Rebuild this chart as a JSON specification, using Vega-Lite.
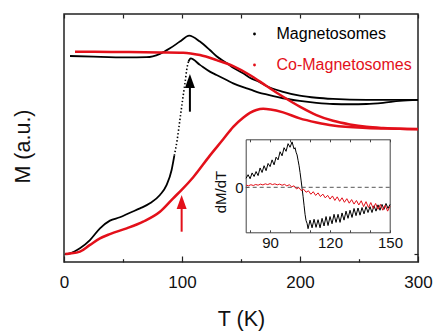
{
"$schema": "https://vega.github.io/schema/vega-lite/v6.json",
"width": 354, "height": 248,
"autosize": {"type": "none"},
"padding": {"left": 64, "top": 14, "right": 16, "bottom": 69},
"background": "white",
"config": {
  "view": {"stroke": "#222", "strokeWidth": 1.5},
  "font": "Liberation Sans",
  "axis": {"domain": false, "grid": false, "labelFlush": false, "tickColor": "#222", "tickWidth": 1.2, "labelColor": "#111", "titleColor": "#111", "titleFontWeight": "normal", "labelFont": "Liberation Sans", "titleFont": "Liberation Sans"}
},
"datasets": {
  "main": [
    {"sample":"Magnetosomes","branch":"ZFC","T":1,"M":0},
    {"sample":"Magnetosomes","branch":"ZFC","T":5.1,"M":0.003},
    {"sample":"Magnetosomes","branch":"ZFC","T":13.5,"M":0.024},
    {"sample":"Magnetosomes","branch":"ZFC","T":22,"M":0.058},
    {"sample":"Magnetosomes","branch":"ZFC","T":30.5,"M":0.107},
    {"sample":"Magnetosomes","branch":"ZFC","T":38.9,"M":0.139},
    {"sample":"Magnetosomes","branch":"ZFC","T":47.4,"M":0.153},
    {"sample":"Magnetosomes","branch":"ZFC","T":55.9,"M":0.172},
    {"sample":"Magnetosomes","branch":"ZFC","T":64.4,"M":0.19},
    {"sample":"Magnetosomes","branch":"ZFC","T":72.8,"M":0.211},
    {"sample":"Magnetosomes","branch":"ZFC","T":81.3,"M":0.246},
    {"sample":"Magnetosomes","branch":"ZFC","T":87,"M":0.288},
    {"sample":"Magnetosomes","branch":"ZFC","T":91.2,"M":0.35},
    {"sample":"Magnetosomes","branch":"ZFC","T":93.5,"M":0.41},
    {"sample":"Magnetosomes","branch":"ZFC","T":95.9,"M":0.475},
    {"sample":"Magnetosomes","branch":"ZFC","T":98.2,"M":0.558},
    {"sample":"Magnetosomes","branch":"ZFC","T":100.5,"M":0.642},
    {"sample":"Magnetosomes","branch":"ZFC","T":102.5,"M":0.711},
    {"sample":"Magnetosomes","branch":"ZFC","T":104.4,"M":0.78},
    {"sample":"Magnetosomes","branch":"ZFC","T":105.5,"M":0.802},
    {"sample":"Magnetosomes","branch":"ZFC","T":106.1,"M":0.808},
    {"sample":"Magnetosomes","branch":"ZFC","T":107.3,"M":0.815},
    {"sample":"Magnetosomes","branch":"ZFC","T":115.2,"M":0.788},
    {"sample":"Magnetosomes","branch":"ZFC","T":123.6,"M":0.76},
    {"sample":"Magnetosomes","branch":"ZFC","T":129.3,"M":0.746},
    {"sample":"Magnetosomes","branch":"ZFC","T":137.8,"M":0.725},
    {"sample":"Magnetosomes","branch":"ZFC","T":143.4,"M":0.711},
    {"sample":"Magnetosomes","branch":"ZFC","T":151.8,"M":0.695},
    {"sample":"Magnetosomes","branch":"ZFC","T":157.5,"M":0.686},
    {"sample":"Magnetosomes","branch":"ZFC","T":165.9,"M":0.671},
    {"sample":"Magnetosomes","branch":"ZFC","T":171.6,"M":0.665},
    {"sample":"Magnetosomes","branch":"ZFC","T":185.7,"M":0.649},
    {"sample":"Magnetosomes","branch":"ZFC","T":199.8,"M":0.638},
    {"sample":"Magnetosomes","branch":"ZFC","T":213.9,"M":0.63},
    {"sample":"Magnetosomes","branch":"ZFC","T":228,"M":0.625},
    {"sample":"Magnetosomes","branch":"ZFC","T":242.2,"M":0.624},
    {"sample":"Magnetosomes","branch":"ZFC","T":256.3,"M":0.625},
    {"sample":"Magnetosomes","branch":"ZFC","T":270.4,"M":0.63},
    {"sample":"Magnetosomes","branch":"ZFC","T":284.5,"M":0.638},
    {"sample":"Magnetosomes","branch":"ZFC","T":300,"M":0.642},
    {"sample":"Magnetosomes","branch":"FC","T":5.1,"M":0.825},
    {"sample":"Magnetosomes","branch":"FC","T":24.8,"M":0.822},
    {"sample":"Magnetosomes","branch":"FC","T":53.1,"M":0.819},
    {"sample":"Magnetosomes","branch":"FC","T":70,"M":0.82},
    {"sample":"Magnetosomes","branch":"FC","T":81.3,"M":0.834},
    {"sample":"Magnetosomes","branch":"FC","T":89.8,"M":0.857},
    {"sample":"Magnetosomes","branch":"FC","T":98.2,"M":0.885},
    {"sample":"Magnetosomes","branch":"FC","T":106.1,"M":0.91},
    {"sample":"Magnetosomes","branch":"FC","T":115.2,"M":0.885},
    {"sample":"Magnetosomes","branch":"FC","T":123.6,"M":0.85},
    {"sample":"Magnetosomes","branch":"FC","T":129.3,"M":0.824},
    {"sample":"Magnetosomes","branch":"FC","T":137.8,"M":0.796},
    {"sample":"Magnetosomes","branch":"FC","T":143.4,"M":0.776},
    {"sample":"Magnetosomes","branch":"FC","T":151.8,"M":0.753},
    {"sample":"Magnetosomes","branch":"FC","T":157.5,"M":0.734},
    {"sample":"Magnetosomes","branch":"FC","T":165.9,"M":0.716},
    {"sample":"Magnetosomes","branch":"FC","T":171.6,"M":0.7},
    {"sample":"Magnetosomes","branch":"FC","T":185.7,"M":0.676},
    {"sample":"Magnetosomes","branch":"FC","T":199.8,"M":0.66},
    {"sample":"Magnetosomes","branch":"FC","T":213.9,"M":0.651},
    {"sample":"Magnetosomes","branch":"FC","T":228,"M":0.646},
    {"sample":"Magnetosomes","branch":"FC","T":256.3,"M":0.642},
    {"sample":"Magnetosomes","branch":"FC","T":300,"M":0.642},
    {"sample":"Co-Magnetosomes","branch":"FC","T":9.3,"M":0.843},
    {"sample":"Co-Magnetosomes","branch":"FC","T":40,"M":0.842},
    {"sample":"Co-Magnetosomes","branch":"FC","T":81.3,"M":0.84},
    {"sample":"Co-Magnetosomes","branch":"FC","T":101,"M":0.839},
    {"sample":"Co-Magnetosomes","branch":"FC","T":115.2,"M":0.829},
    {"sample":"Co-Magnetosomes","branch":"FC","T":129.3,"M":0.808},
    {"sample":"Co-Magnetosomes","branch":"FC","T":143.4,"M":0.783},
    {"sample":"Co-Magnetosomes","branch":"FC","T":157.5,"M":0.746},
    {"sample":"Co-Magnetosomes","branch":"FC","T":171.6,"M":0.7},
    {"sample":"Co-Magnetosomes","branch":"FC","T":185.7,"M":0.655},
    {"sample":"Co-Magnetosomes","branch":"FC","T":199.8,"M":0.614},
    {"sample":"Co-Magnetosomes","branch":"FC","T":213.9,"M":0.579},
    {"sample":"Co-Magnetosomes","branch":"FC","T":228,"M":0.555},
    {"sample":"Co-Magnetosomes","branch":"FC","T":242.2,"M":0.54},
    {"sample":"Co-Magnetosomes","branch":"FC","T":256.3,"M":0.53},
    {"sample":"Co-Magnetosomes","branch":"FC","T":270.4,"M":0.525},
    {"sample":"Co-Magnetosomes","branch":"FC","T":284.5,"M":0.522},
    {"sample":"Co-Magnetosomes","branch":"FC","T":300,"M":0.521},
    {"sample":"Co-Magnetosomes","branch":"ZFC","T":1,"M":0},
    {"sample":"Co-Magnetosomes","branch":"ZFC","T":5.1,"M":0.002},
    {"sample":"Co-Magnetosomes","branch":"ZFC","T":13.5,"M":0.01},
    {"sample":"Co-Magnetosomes","branch":"ZFC","T":22,"M":0.038},
    {"sample":"Co-Magnetosomes","branch":"ZFC","T":30.5,"M":0.065},
    {"sample":"Co-Magnetosomes","branch":"ZFC","T":38.9,"M":0.083},
    {"sample":"Co-Magnetosomes","branch":"ZFC","T":53.1,"M":0.107},
    {"sample":"Co-Magnetosomes","branch":"ZFC","T":67.1,"M":0.135},
    {"sample":"Co-Magnetosomes","branch":"ZFC","T":81.3,"M":0.176},
    {"sample":"Co-Magnetosomes","branch":"ZFC","T":92.5,"M":0.232},
    {"sample":"Co-Magnetosomes","branch":"ZFC","T":99.7,"M":0.267},
    {"sample":"Co-Magnetosomes","branch":"ZFC","T":109.5,"M":0.32},
    {"sample":"Co-Magnetosomes","branch":"ZFC","T":123.6,"M":0.41},
    {"sample":"Co-Magnetosomes","branch":"ZFC","T":134.9,"M":0.478},
    {"sample":"Co-Magnetosomes","branch":"ZFC","T":143.4,"M":0.53},
    {"sample":"Co-Magnetosomes","branch":"ZFC","T":151.8,"M":0.568},
    {"sample":"Co-Magnetosomes","branch":"ZFC","T":157.5,"M":0.588},
    {"sample":"Co-Magnetosomes","branch":"ZFC","T":163,"M":0.6},
    {"sample":"Co-Magnetosomes","branch":"ZFC","T":168.8,"M":0.605},
    {"sample":"Co-Magnetosomes","branch":"ZFC","T":175,"M":0.602},
    {"sample":"Co-Magnetosomes","branch":"ZFC","T":185.7,"M":0.59},
    {"sample":"Co-Magnetosomes","branch":"ZFC","T":199.8,"M":0.565},
    {"sample":"Co-Magnetosomes","branch":"ZFC","T":213.9,"M":0.548},
    {"sample":"Co-Magnetosomes","branch":"ZFC","T":228,"M":0.535},
    {"sample":"Co-Magnetosomes","branch":"ZFC","T":256.3,"M":0.525},
    {"sample":"Co-Magnetosomes","branch":"ZFC","T":284.5,"M":0.522},
    {"sample":"Co-Magnetosomes","branch":"ZFC","T":300,"M":0.52}
  ],
  "arrows": [
    {"sample":"Magnetosomes","T":106.7,"tip":0.75,"base":0.593},
    {"sample":"Co-Magnetosomes","T":99.7,"tip":0.246,"base":0.093}
  ],
  "inset": [
    {"sample":"Magnetosomes","T":78,"dMdT":0.2},
    {"sample":"Magnetosomes","T":79,"dMdT":0.28},
    {"sample":"Magnetosomes","T":80,"dMdT":0.19},
    {"sample":"Magnetosomes","T":81,"dMdT":0.32},
    {"sample":"Magnetosomes","T":82,"dMdT":0.24},
    {"sample":"Magnetosomes","T":83,"dMdT":0.35},
    {"sample":"Magnetosomes","T":84,"dMdT":0.26},
    {"sample":"Magnetosomes","T":85,"dMdT":0.43},
    {"sample":"Magnetosomes","T":86,"dMdT":0.33},
    {"sample":"Magnetosomes","T":87,"dMdT":0.48},
    {"sample":"Magnetosomes","T":88,"dMdT":0.37},
    {"sample":"Magnetosomes","T":89,"dMdT":0.53},
    {"sample":"Magnetosomes","T":90,"dMdT":0.46},
    {"sample":"Magnetosomes","T":91,"dMdT":0.61},
    {"sample":"Magnetosomes","T":92,"dMdT":0.5},
    {"sample":"Magnetosomes","T":93,"dMdT":0.67},
    {"sample":"Magnetosomes","T":94,"dMdT":0.61},
    {"sample":"Magnetosomes","T":95,"dMdT":0.79},
    {"sample":"Magnetosomes","T":96,"dMdT":0.7},
    {"sample":"Magnetosomes","T":97,"dMdT":0.88},
    {"sample":"Magnetosomes","T":98,"dMdT":0.8},
    {"sample":"Magnetosomes","T":99,"dMdT":0.97},
    {"sample":"Magnetosomes","T":100,"dMdT":0.89},
    {"sample":"Magnetosomes","T":101,"dMdT":1.01},
    {"sample":"Magnetosomes","T":102,"dMdT":0.85},
    {"sample":"Magnetosomes","T":102.5,"dMdT":0.88},
    {"sample":"Magnetosomes","T":103,"dMdT":0.78},
    {"sample":"Magnetosomes","T":103.5,"dMdT":0.72},
    {"sample":"Magnetosomes","T":104,"dMdT":0.6},
    {"sample":"Magnetosomes","T":104.5,"dMdT":0.48},
    {"sample":"Magnetosomes","T":105,"dMdT":0.33},
    {"sample":"Magnetosomes","T":105.5,"dMdT":0.16},
    {"sample":"Magnetosomes","T":106,"dMdT":-0.02},
    {"sample":"Magnetosomes","T":106.5,"dMdT":-0.2},
    {"sample":"Magnetosomes","T":107,"dMdT":-0.4},
    {"sample":"Magnetosomes","T":107.5,"dMdT":-0.6},
    {"sample":"Magnetosomes","T":108,"dMdT":-0.74},
    {"sample":"Magnetosomes","T":108.5,"dMdT":-0.8},
    {"sample":"Magnetosomes","T":109,"dMdT":-0.92},
    {"sample":"Magnetosomes","T":110,"dMdT":-0.73},
    {"sample":"Magnetosomes","T":111,"dMdT":-0.9},
    {"sample":"Magnetosomes","T":112,"dMdT":-0.71},
    {"sample":"Magnetosomes","T":113,"dMdT":-0.89},
    {"sample":"Magnetosomes","T":114,"dMdT":-0.72},
    {"sample":"Magnetosomes","T":115,"dMdT":-0.9},
    {"sample":"Magnetosomes","T":116,"dMdT":-0.69},
    {"sample":"Magnetosomes","T":117,"dMdT":-0.86},
    {"sample":"Magnetosomes","T":118,"dMdT":-0.65},
    {"sample":"Magnetosomes","T":119,"dMdT":-0.85},
    {"sample":"Magnetosomes","T":120,"dMdT":-0.65},
    {"sample":"Magnetosomes","T":121,"dMdT":-0.81},
    {"sample":"Magnetosomes","T":122,"dMdT":-0.6},
    {"sample":"Magnetosomes","T":123,"dMdT":-0.78},
    {"sample":"Magnetosomes","T":124,"dMdT":-0.6},
    {"sample":"Magnetosomes","T":125,"dMdT":-0.78},
    {"sample":"Magnetosomes","T":126,"dMdT":-0.57},
    {"sample":"Magnetosomes","T":127,"dMdT":-0.73},
    {"sample":"Magnetosomes","T":128,"dMdT":-0.53},
    {"sample":"Magnetosomes","T":129,"dMdT":-0.69},
    {"sample":"Magnetosomes","T":130,"dMdT":-0.51},
    {"sample":"Magnetosomes","T":131,"dMdT":-0.67},
    {"sample":"Magnetosomes","T":132,"dMdT":-0.47},
    {"sample":"Magnetosomes","T":133,"dMdT":-0.63},
    {"sample":"Magnetosomes","T":134,"dMdT":-0.46},
    {"sample":"Magnetosomes","T":135,"dMdT":-0.62},
    {"sample":"Magnetosomes","T":136,"dMdT":-0.45},
    {"sample":"Magnetosomes","T":137,"dMdT":-0.59},
    {"sample":"Magnetosomes","T":138,"dMdT":-0.43},
    {"sample":"Magnetosomes","T":139,"dMdT":-0.56},
    {"sample":"Magnetosomes","T":140,"dMdT":-0.43},
    {"sample":"Magnetosomes","T":141,"dMdT":-0.56},
    {"sample":"Magnetosomes","T":142,"dMdT":-0.41},
    {"sample":"Magnetosomes","T":143,"dMdT":-0.53},
    {"sample":"Magnetosomes","T":144,"dMdT":-0.39},
    {"sample":"Magnetosomes","T":145,"dMdT":-0.51},
    {"sample":"Magnetosomes","T":146,"dMdT":-0.38},
    {"sample":"Magnetosomes","T":147,"dMdT":-0.49},
    {"sample":"Magnetosomes","T":148,"dMdT":-0.36},
    {"sample":"Magnetosomes","T":149,"dMdT":-0.47},
    {"sample":"Magnetosomes","T":150,"dMdT":-0.38},
    {"sample":"Co-Magnetosomes","T":78,"dMdT":0.05},
    {"sample":"Co-Magnetosomes","T":79.2,"dMdT":0.033},
    {"sample":"Co-Magnetosomes","T":80.4,"dMdT":0.057},
    {"sample":"Co-Magnetosomes","T":81.6,"dMdT":0.04},
    {"sample":"Co-Magnetosomes","T":82.8,"dMdT":0.063},
    {"sample":"Co-Magnetosomes","T":84,"dMdT":0.047},
    {"sample":"Co-Magnetosomes","T":85.2,"dMdT":0.07},
    {"sample":"Co-Magnetosomes","T":86.4,"dMdT":0.053},
    {"sample":"Co-Magnetosomes","T":87.6,"dMdT":0.077},
    {"sample":"Co-Magnetosomes","T":88.8,"dMdT":0.06},
    {"sample":"Co-Magnetosomes","T":90,"dMdT":0.083},
    {"sample":"Co-Magnetosomes","T":91.2,"dMdT":0.06},
    {"sample":"Co-Magnetosomes","T":92.4,"dMdT":0.077},
    {"sample":"Co-Magnetosomes","T":93.6,"dMdT":0.055},
    {"sample":"Co-Magnetosomes","T":94.8,"dMdT":0.071},
    {"sample":"Co-Magnetosomes","T":96,"dMdT":0.046},
    {"sample":"Co-Magnetosomes","T":97.2,"dMdT":0.066},
    {"sample":"Co-Magnetosomes","T":98.4,"dMdT":0.031},
    {"sample":"Co-Magnetosomes","T":99.6,"dMdT":0.057},
    {"sample":"Co-Magnetosomes","T":100.8,"dMdT":0.012},
    {"sample":"Co-Magnetosomes","T":102,"dMdT":0.033},
    {"sample":"Co-Magnetosomes","T":103.2,"dMdT":-0.036},
    {"sample":"Co-Magnetosomes","T":104.4,"dMdT":-0.005},
    {"sample":"Co-Magnetosomes","T":105.6,"dMdT":-0.074},
    {"sample":"Co-Magnetosomes","T":106.8,"dMdT":-0.042},
    {"sample":"Co-Magnetosomes","T":108,"dMdT":-0.11},
    {"sample":"Co-Magnetosomes","T":109.2,"dMdT":-0.078},
    {"sample":"Co-Magnetosomes","T":110.4,"dMdT":-0.154},
    {"sample":"Co-Magnetosomes","T":111.6,"dMdT":-0.098},
    {"sample":"Co-Magnetosomes","T":112.8,"dMdT":-0.181},
    {"sample":"Co-Magnetosomes","T":114,"dMdT":-0.124},
    {"sample":"Co-Magnetosomes","T":115.2,"dMdT":-0.206},
    {"sample":"Co-Magnetosomes","T":116.4,"dMdT":-0.151},
    {"sample":"Co-Magnetosomes","T":117.6,"dMdT":-0.235},
    {"sample":"Co-Magnetosomes","T":118.8,"dMdT":-0.178},
    {"sample":"Co-Magnetosomes","T":120,"dMdT":-0.262},
    {"sample":"Co-Magnetosomes","T":121.2,"dMdT":-0.192},
    {"sample":"Co-Magnetosomes","T":122.4,"dMdT":-0.292},
    {"sample":"Co-Magnetosomes","T":123.6,"dMdT":-0.212},
    {"sample":"Co-Magnetosomes","T":124.8,"dMdT":-0.312},
    {"sample":"Co-Magnetosomes","T":126,"dMdT":-0.233},
    {"sample":"Co-Magnetosomes","T":127.2,"dMdT":-0.333},
    {"sample":"Co-Magnetosomes","T":128.4,"dMdT":-0.253},
    {"sample":"Co-Magnetosomes","T":129.6,"dMdT":-0.353},
    {"sample":"Co-Magnetosomes","T":130.8,"dMdT":-0.273},
    {"sample":"Co-Magnetosomes","T":132,"dMdT":-0.373},
    {"sample":"Co-Magnetosomes","T":133.2,"dMdT":-0.293},
    {"sample":"Co-Magnetosomes","T":134.4,"dMdT":-0.393},
    {"sample":"Co-Magnetosomes","T":135.6,"dMdT":-0.299},
    {"sample":"Co-Magnetosomes","T":136.8,"dMdT":-0.429},
    {"sample":"Co-Magnetosomes","T":138,"dMdT":-0.319},
    {"sample":"Co-Magnetosomes","T":139.2,"dMdT":-0.449},
    {"sample":"Co-Magnetosomes","T":140.4,"dMdT":-0.339},
    {"sample":"Co-Magnetosomes","T":141.6,"dMdT":-0.469},
    {"sample":"Co-Magnetosomes","T":142.8,"dMdT":-0.359},
    {"sample":"Co-Magnetosomes","T":144,"dMdT":-0.489},
    {"sample":"Co-Magnetosomes","T":145.2,"dMdT":-0.379},
    {"sample":"Co-Magnetosomes","T":146.4,"dMdT":-0.509},
    {"sample":"Co-Magnetosomes","T":147.6,"dMdT":-0.4},
    {"sample":"Co-Magnetosomes","T":148.8,"dMdT":-0.53},
    {"sample":"Co-Magnetosomes","T":150,"dMdT":-0.42}
  ]
},
"layer": [
  {
    "layer": [
      {
        "data": {"name": "main"},
        "transform": [{"filter": "datum.sample == 'Magnetosomes' && datum.branch == 'FC'"}],
        "mark": {"type": "line", "strokeWidth": 1.8, "interpolate": "monotone"},
        "encoding": {
          "x": {"field": "T", "type": "quantitative", "scale": {"domain": [0, 300], "nice": false},
                "axis": {"orient": "bottom", "values": [0, 100, 200, 300], "tickSize": -6, "labelFontSize": 17, "labelPadding": 18, "title": "T (K)", "titleFontSize": 21.5, "titlePadding": 18}},
          "y": {"field": "M", "type": "quantitative", "scale": {"domain": [-0.0333, 1], "nice": false, "zero": false},
                "axis": {"orient": "left", "values": [0], "labels": false, "tickSize": -4, "title": "M (a.u.)", "titleFontSize": 21.5, "titlePadding": 29, "titleY": 132}},
          "color": {"field": "sample", "type": "nominal",
                    "scale": {"domain": ["Magnetosomes", "Co-Magnetosomes"], "range": ["#000000", "#e3101a"]},
                    "legend": {"orient": "none", "legendX": 182.5, "legendY": 12, "title": null, "symbolType": "circle", "symbolSize": 8, "symbolStrokeWidth": 0, "labelFontSize": 16, "labelOffset": 14, "rowPadding": 15, "padding": 0, "labelFont": "Liberation Sans",
                               "encode": {"symbols": {"update": {"fill": {"signal": "datum.value == 'Magnetosomes' ? '#000000' : '#e3101a'"}, "opacity": {"value": 1}}},
                                          "labels": {"update": {"fill": {"signal": "datum.value == 'Magnetosomes' ? '#000000' : '#e3101a'"}}}}}}
        }
      },
      {
        "data": {"name": "main"},
        "transform": [{"filter": "datum.sample == 'Magnetosomes' && datum.branch == 'ZFC' && datum.T <= 93.5"}],
        "mark": {"type": "line", "strokeWidth": 1.8, "interpolate": "monotone", "color": "#000000"},
        "encoding": {"x": {"field": "T", "type": "quantitative"}, "y": {"field": "M", "type": "quantitative"}}
      },
      {
        "data": {"name": "main"},
        "transform": [{"filter": "datum.sample == 'Magnetosomes' && datum.branch == 'ZFC' && datum.T >= 93.5 && datum.T <= 105.5"}],
        "mark": {"type": "line", "strokeWidth": 1.6, "interpolate": "monotone", "color": "#000000", "strokeDash": [1.4, 2.2]},
        "encoding": {"x": {"field": "T", "type": "quantitative"}, "y": {"field": "M", "type": "quantitative"}}
      },
      {
        "data": {"name": "main"},
        "transform": [{"filter": "datum.sample == 'Magnetosomes' && datum.branch == 'ZFC' && datum.T >= 105.5"}],
        "mark": {"type": "line", "strokeWidth": 1.8, "interpolate": "monotone", "color": "#000000"},
        "encoding": {"x": {"field": "T", "type": "quantitative"}, "y": {"field": "M", "type": "quantitative"}}
      },
      {
        "data": {"name": "main"},
        "transform": [{"filter": "datum.sample == 'Co-Magnetosomes'"}],
        "mark": {"type": "line", "strokeWidth": 2.5, "interpolate": "monotone"},
        "encoding": {"x": {"field": "T", "type": "quantitative"}, "y": {"field": "M", "type": "quantitative"},
                     "color": {"field": "sample", "type": "nominal"}, "detail": {"field": "branch"}}
      },
      {
        "data": {"name": "arrows"},
        "mark": {"type": "rule", "strokeWidth": 2, "y2Offset": 10},
        "encoding": {"x": {"field": "T", "type": "quantitative"}, "y": {"field": "base", "type": "quantitative"}, "y2": {"field": "tip"},
                     "color": {"field": "sample", "type": "nominal"}}
      },
      {
        "data": {"name": "arrows"},
        "mark": {"type": "point", "filled": true, "opacity": 1, "size": 400, "yOffset": 10, "shape": "M0,-1L0.5,0.4L-0.5,0.4Z"},
        "encoding": {"x": {"field": "T", "type": "quantitative"}, "y": {"field": "tip", "type": "quantitative"},
                     "color": {"field": "sample", "type": "nominal"}}
      }
    ]
  },
  {
    "data": {"name": "main"},
    "mark": {"type": "point", "opacity": 0},
    "encoding": {
      "x": {"field": "T", "type": "quantitative", "scale": {"domain": [0, 300], "nice": false},
            "axis": {"orient": "top", "values": [0, 50, 100, 150, 200, 250, 300], "tickSize": -4, "labels": false, "title": null}},
      "y": {"field": "M", "type": "quantitative", "scale": {"domain": [-0.0333, 1], "nice": false, "zero": false},
            "axis": {"orient": "right", "values": [0], "tickSize": -4, "labels": false, "title": null}}
    }
  },
  {
    "data": {"name": "main"},
    "mark": {"type": "point", "opacity": 0},
    "encoding": {
      "x": {"field": "T", "type": "quantitative", "scale": {"domain": [0, 300], "nice": false},
            "axis": {"orient": "bottom", "values": [50, 150, 250], "tickSize": -3.3, "labels": false, "title": null}},
      "y": {"field": "M", "type": "quantitative", "scale": {"domain": [-0.0333, 1], "nice": false, "zero": false}, "axis": null}
    }
  },
  {
    "layer": [
      {
        "data": {"name": "inset"},
        "transform": [{"filter": "datum.sample == 'Magnetosomes'"}],
        "mark": {"type": "line", "color": "#000000", "strokeWidth": 1},
        "encoding": {
          "x": {"field": "T", "type": "quantitative", "scale": {"domain": [77.8, 150], "range": [181.7, 326], "nice": false, "zero": false},
                "axis": {"orient": "bottom", "offset": -29.7, "values": [80, 90, 100, 110, 120, 130, 140, 150], "labelExpr": "datum.value % 30 == 0 ? datum.label : ''", "tickSize": -2.5, "tickColor": "#444", "tickWidth": 1, "domain": true, "domainColor": "#444", "domainWidth": 1, "labelFontSize": 15, "labelPadding": 6, "title": null}},
          "y": {"field": "dMdT", "type": "quantitative", "scale": {"domain": [-1, 1.067], "range": [218.3, 125.3], "nice": false, "zero": false},
                "axis": {"orient": "left", "offset": -181.7, "values": [0], "format": "d", "tickSize": -2.5, "tickColor": "#444", "tickWidth": 1, "domain": true, "domainColor": "#444", "domainWidth": 1, "labelFontSize": 15, "labelPadding": 5, "title": "dM/dT", "titleFontSize": 15, "titlePadding": 6, "titleY": 177.5}}
        }
      },
      {
        "data": {"values": [{}]},
        "mark": {"type": "rule", "strokeDash": [4, 3], "color": "#555555", "strokeWidth": 1},
        "encoding": {"x": {"datum": 77.8, "type": "quantitative"}, "x2": {"datum": 150}, "y": {"datum": 0, "type": "quantitative"}}
      },
      {
        "data": {"name": "inset"},
        "transform": [{"filter": "datum.sample == 'Co-Magnetosomes'"}],
        "mark": {"type": "line", "color": "#e3101a", "strokeWidth": 1},
        "encoding": {"x": {"field": "T", "type": "quantitative"}, "y": {"field": "dMdT", "type": "quantitative"}}
      }
    ]
  },
  {
    "data": {"name": "inset"},
    "mark": {"type": "point", "opacity": 0},
    "encoding": {
      "x": {"field": "T", "type": "quantitative", "scale": {"domain": [77.8, 150], "range": [181.7, 326], "nice": false, "zero": false},
            "axis": {"orient": "top", "offset": -125.3, "values": [80, 90, 100, 110, 120, 130, 140, 150], "tickSize": -2.5, "tickColor": "#444", "tickWidth": 1, "labels": false, "domain": true, "domainColor": "#444", "domainWidth": 1, "title": null}},
      "y": {"field": "dMdT", "type": "quantitative", "scale": {"domain": [-1, 1.067], "range": [218.3, 125.3], "nice": false, "zero": false},
            "axis": {"orient": "right", "offset": -28.3, "ticks": false, "labels": false, "domain": true, "domainColor": "#444", "domainWidth": 1, "title": null}}
    }
  }
],
"resolve": {"scale": {"x": "independent", "y": "independent"}}
}
